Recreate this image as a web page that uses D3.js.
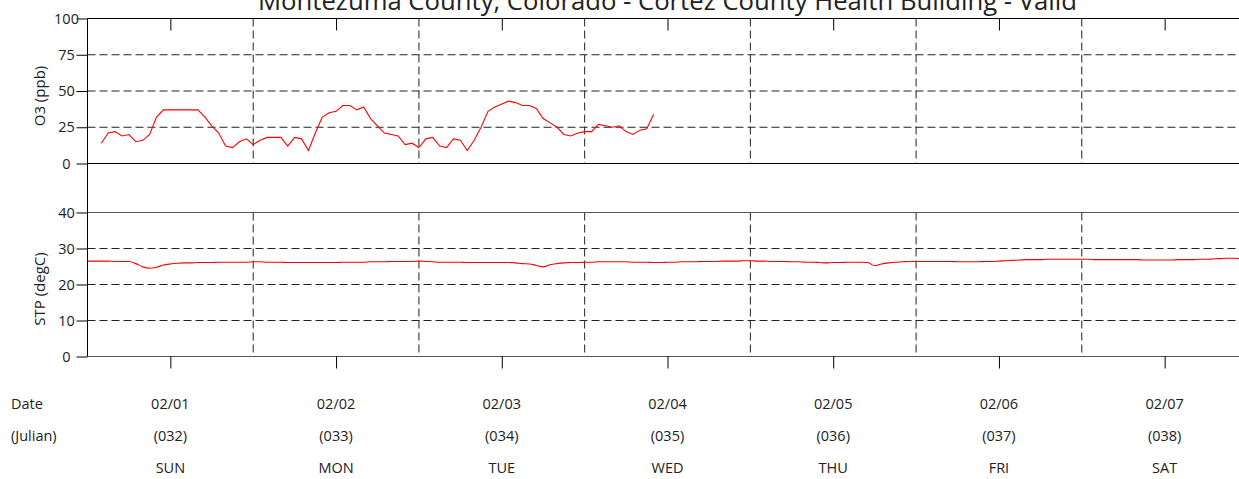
<!DOCTYPE html>
<html>
<head>
<meta charset="utf-8">
<script src="https://cdn.jsdelivr.net/npm/d3@7"></script>
<style>
  body { margin: 0; background: #fff; }
  svg { display: block; font-family: "Open Sans", sans-serif; }
</style>
</head>
<body>
<script>
var title = "Montezuma County, Colorado - Cortez County Health Building - Valid";
var dates = ["02/01", "02/02", "02/03", "02/04", "02/05", "02/06", "02/07"];
var julian = ["(032)", "(033)", "(034)", "(035)", "(036)", "(037)", "(038)"];
var weekdays = ["SUN", "MON", "TUE", "WED", "THU", "FRI", "SAT"];
var o3Ticks = [0, 25, 50, 75, 100];
var stpTicks = [0, 10, 20, 30, 40];

// hourly O3 (ppb), first reading at hour 2 of 02/01
var o3FirstHour = 2;
var o3 = [14, 21, 22, 19, 20, 15, 16, 20,
  32, 37, 37, 37, 37, 37, 37, 32, 26, 21,
  12, 11, 15, 17, 13, 16, 18, 18, 18, 12,
  18, 17, 9, 21, 32, 35, 36, 40, 40, 37,
  39, 31, 26, 21, 20, 19, 13, 14, 11, 17,
  18, 12, 11, 17, 16, 9, 16, 25, 36, 39,
  41, 43, 42, 40, 40, 38, 31, 28, 25, 20,
  19, 21, 22, 22, 27, 26, 25, 26, 22, 20,
  23, 24, 34];

// hourly STP (degC) from 02/01 00:00
var stp = [
  26.5, 26.5, 26.5, 26.5, 26.4, 26.4, 26.4, 25.8, 24.9, 24.5, 24.8, 25.4, 25.7, 25.9, 26.0, 26.0, 26.1, 26.1, 26.1, 26.2, 26.2, 26.2, 26.2, 26.2,
  26.3, 26.3, 26.2, 26.2, 26.2, 26.1, 26.1, 26.1, 26.1, 26.1, 26.1, 26.1, 26.1, 26.2, 26.2, 26.2, 26.2, 26.3, 26.3, 26.3, 26.4, 26.4, 26.4, 26.4,
  26.5, 26.4, 26.3, 26.2, 26.2, 26.2, 26.2, 26.1, 26.1, 26.1, 26.1, 26.1, 26.1, 26.1, 26.0, 25.8, 25.7, 25.3, 24.9, 25.5, 25.8, 26.0, 26.1, 26.1,
  26.2, 26.2, 26.3, 26.3, 26.3, 26.3, 26.3, 26.2, 26.2, 26.2, 26.1, 26.1, 26.2, 26.2, 26.3, 26.3, 26.3, 26.4, 26.4, 26.4, 26.5, 26.5, 26.5, 26.6,
  26.6, 26.5, 26.5, 26.4, 26.4, 26.4, 26.3, 26.3, 26.2, 26.2, 26.1, 26.0, 26.1, 26.1, 26.2, 26.2, 26.2, 26.1, 25.2, 25.7, 26.0, 26.2, 26.3, 26.4,
  26.4, 26.4, 26.4, 26.4, 26.4, 26.4, 26.3, 26.3, 26.3, 26.3, 26.4, 26.4, 26.5, 26.6, 26.7, 26.8, 26.9, 26.9, 26.9, 27.0, 27.0, 27.0, 27.0, 27.0,
  27.0, 27.0, 26.9, 26.9, 26.9, 26.9, 26.9, 26.9, 26.9, 26.8, 26.8, 26.8, 26.8, 26.8, 26.9, 26.9, 26.9, 27.0, 27.0, 27.1, 27.2, 27.3, 27.3, 27.2
];

var width = 1239, height = 479;
var left = 87.5;

var svg = d3.select("body").append("svg")
  .attr("width", width)
  .attr("height", height);

var x = d3.scaleLinear().domain([0, dates.length * 24]).range([left, 1247.5]);
var yO3 = d3.scaleLinear().domain([0, 100]).range([163.5, 18.5]);
var yStp = d3.scaleLinear().domain([0, 40]).range([356.5, 212.5]);

var dayBounds = d3.range(1, dates.length).map(function(d) { return d * 24; });
var dayCenters = d3.range(dates.length).map(function(d) { return d * 24 + 12; });

function panel(y, ticks) {
  var g = svg.append("g");
  var top = y.range()[1], bottom = y.range()[0];

  // dashed grid
  g.selectAll(".hgrid").data(ticks).enter().append("line")
    .attr("x1", left).attr("x2", width)
    .attr("y1", function(d) { return y(d); })
    .attr("y2", function(d) { return y(d); })
    .attr("stroke", "#222").attr("stroke-dasharray", "8,4");
  g.selectAll(".vgrid").data(dayBounds).enter().append("line")
    .attr("x1", function(d) { return x(d); })
    .attr("x2", function(d) { return x(d); })
    .attr("y1", top).attr("y2", bottom)
    .attr("stroke", "#222").attr("stroke-dasharray", "8,4");

  // y axis
  var ax = g.append("g")
    .attr("transform", "translate(" + left + ",0)")
    .call(d3.axisLeft(y).tickValues(ticks).tickSize(11).tickFormat(d3.format("d")));
  ax.select(".domain").remove();
  ax.selectAll(".tick line").attr("stroke", "#000");
  ax.selectAll(".tick text")
    .attr("x", -21)
    .attr("text-anchor", "middle")
    .attr("fill", "#222")
    .style("font-size", "14.5px")
    .style("font-family", "'Open Sans', sans-serif");
  return g;
}

var g1 = panel(yO3, o3Ticks);
var g2 = panel(yStp, stpTicks);

// solid frame lines
[[yO3(100), "#000"], [yO3(0), "#000"], [yStp(40), "#555"], [yStp(0), "#555"]].forEach(function(r) {
  svg.append("line")
    .attr("x1", left).attr("x2", width)
    .attr("y1", r[0]).attr("y2", r[0])
    .attr("stroke", r[1]);
});
svg.append("line")
  .attr("x1", left).attr("x2", left)
  .attr("y1", yO3(100)).attr("y2", yStp(0))
  .attr("stroke", "#000");

// day-centre ticks: inward at top, outward at bottom
var topAx = svg.append("g")
  .attr("transform", "translate(0," + yO3(100) + ")")
  .call(d3.axisBottom(x).tickValues(dayCenters).tickSize(12).tickFormat(""));
topAx.select(".domain").remove();
var botAx = svg.append("g")
  .attr("transform", "translate(0," + yStp(0) + ")")
  .call(d3.axisBottom(x).tickValues(dayCenters).tickSize(12).tickFormat(""));
botAx.select(".domain").remove();

// series
var o3Line = d3.line()
  .x(function(d, i) { return x(o3FirstHour + i); })
  .y(function(d) { return yO3(d); });
svg.append("path").datum(o3)
  .attr("d", o3Line)
  .attr("fill", "none").attr("stroke", "#ff0000").attr("stroke-width", 1.1);

var stpLine = d3.line()
  .x(function(d, i) { return x(i); })
  .y(function(d) { return yStp(d); })
  .curve(d3.curveMonotoneX);
svg.append("path").datum(stp)
  .attr("d", stpLine)
  .attr("fill", "none").attr("stroke", "#ff0000").attr("stroke-width", 1.1);

// axis titles
svg.append("text")
  .attr("transform", "translate(45," + 96 + ") rotate(-90)")
  .attr("text-anchor", "middle")
  .style("font-size", "15px").attr("fill", "#222")
  .text("O3 (ppb)");
svg.append("text")
  .attr("transform", "translate(45," + 289 + ") rotate(-90)")
  .attr("text-anchor", "middle")
  .style("font-size", "15px").attr("fill", "#222")
  .text("STP (degC)");

// title (its top is clipped by the frame, as in the source image)
svg.append("text")
  .attr("x", (x.range()[0] + x.range()[1]) / 2)
  .attr("y", 10)
  .attr("text-anchor", "middle")
  .style("font-size", "25.7px").attr("fill", "#222")
  .text(title);

// date rows
var rows = [
  { label: "Date", values: dates, y: 408.5 },
  { label: "(Julian)", values: julian, y: 440.5 },
  { label: "", values: weekdays, y: 473 }
];
rows.forEach(function(r) {
  svg.append("text")
    .attr("x", 11).attr("y", r.y)
    .style("font-size", "14.5px").attr("fill", "#222")
    .text(r.label);
  svg.append("g").selectAll("text")
    .data(r.values).enter().append("text")
    .attr("x", function(d, i) { return x(dayCenters[i]); })
    .attr("y", r.y)
    .attr("text-anchor", "middle")
    .style("font-size", "14.5px").attr("fill", "#222")
    .text(function(d) { return d; });
});
</script>
</body>
</html>
